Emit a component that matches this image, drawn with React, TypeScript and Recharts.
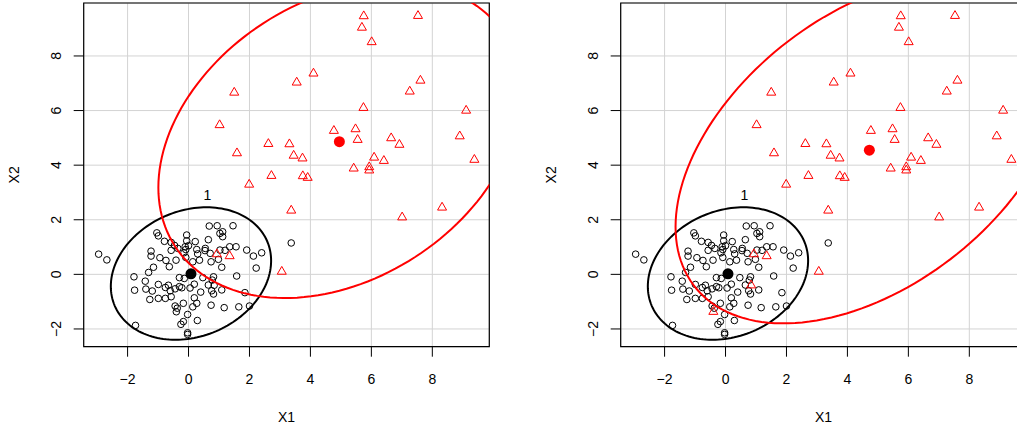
import {
  CartesianGrid,
  ComposedChart,
  ReferenceArea,
  ReferenceDot,
  Scatter,
  XAxis,
  YAxis,
} from "recharts";

// axes
const xTicks = [-2, 0, 2, 4, 6, 8];
const yTicks = [-2, 0, 2, 4, 6, 8];
const xDomain: [number, number] = [-3.44, 9.87];
const yDomain: [number, number] = [-2.65, 9.94];
const xTitle = "X1";
const yTitle = "X2";

// group 1 (circles), same in both panels
const group1: [number, number][] = [
  [-2.95, 0.74], [-2.68, 0.53], [-1.79, -0.09], [-1.77, -0.58], [-1.74, -1.87],
  [-1.31, 0.07], [-1.23, 0.85], [-1.23, 0.67], [-1.15, 0.26], [-1.42, -0.25],
  [-1.40, -0.54], [-1.27, -0.92], [-1.19, -0.61], [-1.04, 1.52], [-0.99, 1.41],
  [-0.94, 0.61], [-0.99, -0.37], [-0.99, -0.88], [-0.79, 1.21], [-0.74, 0.51],
  [-0.76, -0.48], [-0.76, -0.88], [-0.66, -0.40], [-0.63, 0.28], [-0.57, 1.17],
  [-0.57, 0.88], [-0.57, -0.82], [-0.46, 1.06], [-0.44, -0.53], [-0.44, -1.16],
  [-0.41, 0.52], [-0.37, -1.24], [-0.22, -0.49], [-0.30, -0.12], [-0.25, -1.83],
  [-0.17, -1.73], [-0.15, 0.79], [-0.11, 1.01], [-0.06, 1.44], [-0.06, 1.23],
  [-0.09, 0.91], [-0.09, 0.62], [-0.14, -0.15], [-0.17, -1.06], [-0.03, -2.14],
  [-0.03, -2.20], [-0.03, -1.47], [0.05, -0.50], [0.14, -1.19], [0.19, -0.86],
  [0.27, -1.06], [0.29, -1.69], [0.19, -0.36], [0.14, 0.46], [0.22, 1.20],
  [0.27, 0.91], [0.36, 0.52], [0.47, -0.12], [0.54, 0.87], [0.65, 1.27],
  [0.68, 1.77], [0.71, 0.77], [0.74, 0.46], [0.82, -0.09], [0.78, -0.21],
  [0.76, -0.60], [0.65, -0.39], [0.82, -0.72], [0.74, -1.13], [0.94, 1.78],
  [0.98, 0.55], [1.03, 1.50], [1.12, 1.56], [1.12, 1.38], [1.03, 0.89],
  [1.09, 0.26], [1.09, -0.57], [1.17, -1.22], [1.20, 0.88], [1.35, 1.01],
  [1.46, 1.78], [1.56, 1.01], [1.58, -0.06], [1.65, -1.19], [1.91, 0.89],
  [1.85, -0.67], [2.00, -1.16], [2.13, 0.67], [2.22, 0.23], [2.40, 0.79],
  [3.37, 1.15], [-0.30, -0.45], [0.30, 0.75], [0.55, 0.95], [-0.35, 0.95],
  [0.00, 1.05], [0.40, -0.65], [-0.60, -0.60],
];

// group 2 (triangles), same in both panels
const group2: [number, number][] = [
  [5.75, 9.46], [7.53, 9.47], [5.69, 9.04], [6.01, 8.51], [4.10, 7.36],
  [3.55, 7.03], [7.61, 7.10], [7.26, 6.70], [5.74, 6.10], [9.11, 6.00],
  [4.77, 5.26], [5.48, 5.32], [5.55, 4.93], [6.65, 4.99], [6.92, 4.75],
  [8.90, 5.06], [2.62, 4.78], [3.31, 4.77], [3.45, 4.35], [3.74, 4.25],
  [6.09, 4.28], [6.41, 4.16], [9.38, 4.20], [5.42, 3.88], [5.93, 3.93],
  [5.93, 3.81], [2.72, 3.61], [3.75, 3.60], [3.91, 3.54], [1.50, 6.66],
  [1.02, 5.47], [1.59, 4.44], [1.99, 3.29], [3.37, 2.34], [7.01, 2.09],
  [8.32, 2.45], [3.06, 0.10], [0.93, 0.74], [1.35, 0.67],
];

// circles on the left, triangles on the right
const switched: [number, number][] = [
  [0.84, -0.40], [-0.40, -1.37],
];

const centre1: [number, number] = [0.08, 0.02];
const centre2Left: [number, number] = [4.95, 4.86];
const centre2Right: [number, number] = [4.72, 4.55];

// ellipse: centre + lower-triangular factor (l11, l21, l22)
const ellipse1 = { cx: 0.08, cy: 0.03, l11: 2.63, l21: 0.47, l22: 2.38 };
const ellipse2Left = { cx: 4.95, cy: 4.92, l11: 5.94, l21: 1.74, l22: 5.52 };
const ellipse2Right = { cx: 4.72, cy: 4.55, l11: 6.36, l21: 2.81, l22: 5.69 };

const ellipseLabel = { x: 0.62, y: 2.9, text: "1" };

type Ellipse = typeof ellipse1;

const toPoints = (arr: [number, number][]) => arr.map(([x, y]) => ({ x, y }));

function outline(e: Ellipse) {
  const n = 160;
  return Array.from({ length: n + 1 }, (_, i) => {
    const t = (i / n) * Math.PI * 2;
    return {
      x: e.cx + e.l11 * Math.cos(t),
      y: e.cy + e.l21 * Math.cos(t) + e.l22 * Math.sin(t),
    };
  });
}

const RED = "#ff0000";
const FONT = '"Liberation Sans", Arial, Helvetica, sans-serif';

const fmt = (v: number) => (v < 0 ? `\u2212${-v}` : String(v));

function OpenCircle(props: any) {
  return <circle cx={props.cx} cy={props.cy} r={3.3} fill="none" stroke="#000" strokeWidth={1} />;
}

function OpenTriangle(props: any) {
  const { cx, cy } = props;
  const r = 3.35;
  const pts = `${cx},${cy - 1.555 * r} ${cx + 1.347 * r},${cy + 0.778 * r} ${cx - 1.347 * r},${cy + 0.778 * r}`;
  return <polygon points={pts} fill="none" stroke={RED} strokeWidth={1} />;
}

const filledDot = (color: string) => (props: any) =>
  <circle cx={props.cx} cy={props.cy} r={5.5} fill={color} stroke="none" />;

const NoDot = () => <g />;

function YTick(props: any) {
  const { x, y, payload } = props;
  return (
    <text x={x} y={y} transform={`rotate(-90 ${x} ${y})`} textAnchor="middle" fontSize={14} fill="#000">
      {fmt(payload.value)}
    </text>
  );
}

function XTitle(props: any) {
  const vb = props.viewBox;
  return (
    <text x={vb.x + vb.width / 2} y={vb.y + 75} textAnchor="middle" fontSize={14} fill="#000">
      {xTitle}
    </text>
  );
}

function YTitle(props: any) {
  const vb = props.viewBox;
  const x = vb.x + 19;
  const y = vb.y + vb.height / 2;
  return (
    <text x={x} y={y} transform={`rotate(-90 ${x} ${y})`} textAnchor="middle" fontSize={14} fill="#000">
      {yTitle}
    </text>
  );
}

type PanelProps = {
  left: number;
  circles: [number, number][];
  triangles: [number, number][];
  redEllipse: Ellipse;
  redCentre: [number, number];
};

function Panel({ left, circles, triangles, redEllipse, redCentre }: PanelProps) {
  return (
    <div style={{ position: "absolute", left, top: 0 }}>
      <ComposedChart width={508} height={431} margin={{ top: 3, right: 18.7, bottom: 0, left: 0 }}>
        <CartesianGrid stroke="#d3d3d3" strokeWidth={1} />
        <XAxis
          type="number"
          dataKey="x"
          domain={xDomain}
          ticks={xTicks}
          interval={0}
          allowDataOverflow
          axisLine={false}
          tickSize={10}
          tickMargin={17}
          tickLine={{ stroke: "#000" }}
          tick={{ fill: "#000", fontSize: 14 }}
          tickFormatter={fmt}
          height={84.3}
          label={{ content: XTitle }}
        />
        <YAxis
          type="number"
          dataKey="y"
          domain={yDomain}
          ticks={yTicks}
          interval={0}
          allowDataOverflow
          axisLine={false}
          tickSize={10}
          tickMargin={13}
          tickLine={{ stroke: "#000" }}
          tick={<YTick />}
          width={83.7}
          label={{ content: YTitle }}
        />
        <ReferenceArea
          x1={xDomain[0]}
          x2={xDomain[1]}
          y1={yDomain[0]}
          y2={yDomain[1]}
          fill="none"
          fillOpacity={0}
          stroke="#000"
          strokeWidth={1.2}
        />
        <Scatter data={toPoints(circles)} shape={OpenCircle} isAnimationActive={false} />
        <Scatter data={toPoints(triangles)} shape={OpenTriangle} isAnimationActive={false} />
        <Scatter
          data={outline(ellipse1)}
          shape={NoDot}
          line={{ stroke: "#000", strokeWidth: 2 }}
          lineType="joint"
          isAnimationActive={false}
        />
        <Scatter
          data={outline(redEllipse)}
          shape={NoDot}
          line={{ stroke: RED, strokeWidth: 2 }}
          lineType="joint"
          isAnimationActive={false}
        />
        <Scatter data={toPoints([centre1])} shape={filledDot("#000")} isAnimationActive={false} />
        <Scatter data={toPoints([redCentre])} shape={filledDot(RED)} isAnimationActive={false} />
        <ReferenceDot
          x={ellipseLabel.x}
          y={ellipseLabel.y}
          r={0}
          fill="none"
          stroke="none"
          label={{ value: ellipseLabel.text, position: "center", fontSize: 14, fill: "#000" }}
        />
      </ComposedChart>
    </div>
  );
}

export default function App() {
  return (
    <div
      style={{
        position: "fixed",
        left: 0,
        top: 0,
        width: 1017,
        height: 431,
        overflow: "hidden",
        background: "#fff",
        fontFamily: FONT,
      }}
    >
      <Panel
        left={0}
        circles={[...group1, ...switched]}
        triangles={group2}
        redEllipse={ellipse2Left}
        redCentre={centre2Left}
      />
      <Panel
        left={537}
        circles={group1}
        triangles={[...group2, ...switched]}
        redEllipse={ellipse2Right}
        redCentre={centre2Right}
      />
    </div>
  );
}
